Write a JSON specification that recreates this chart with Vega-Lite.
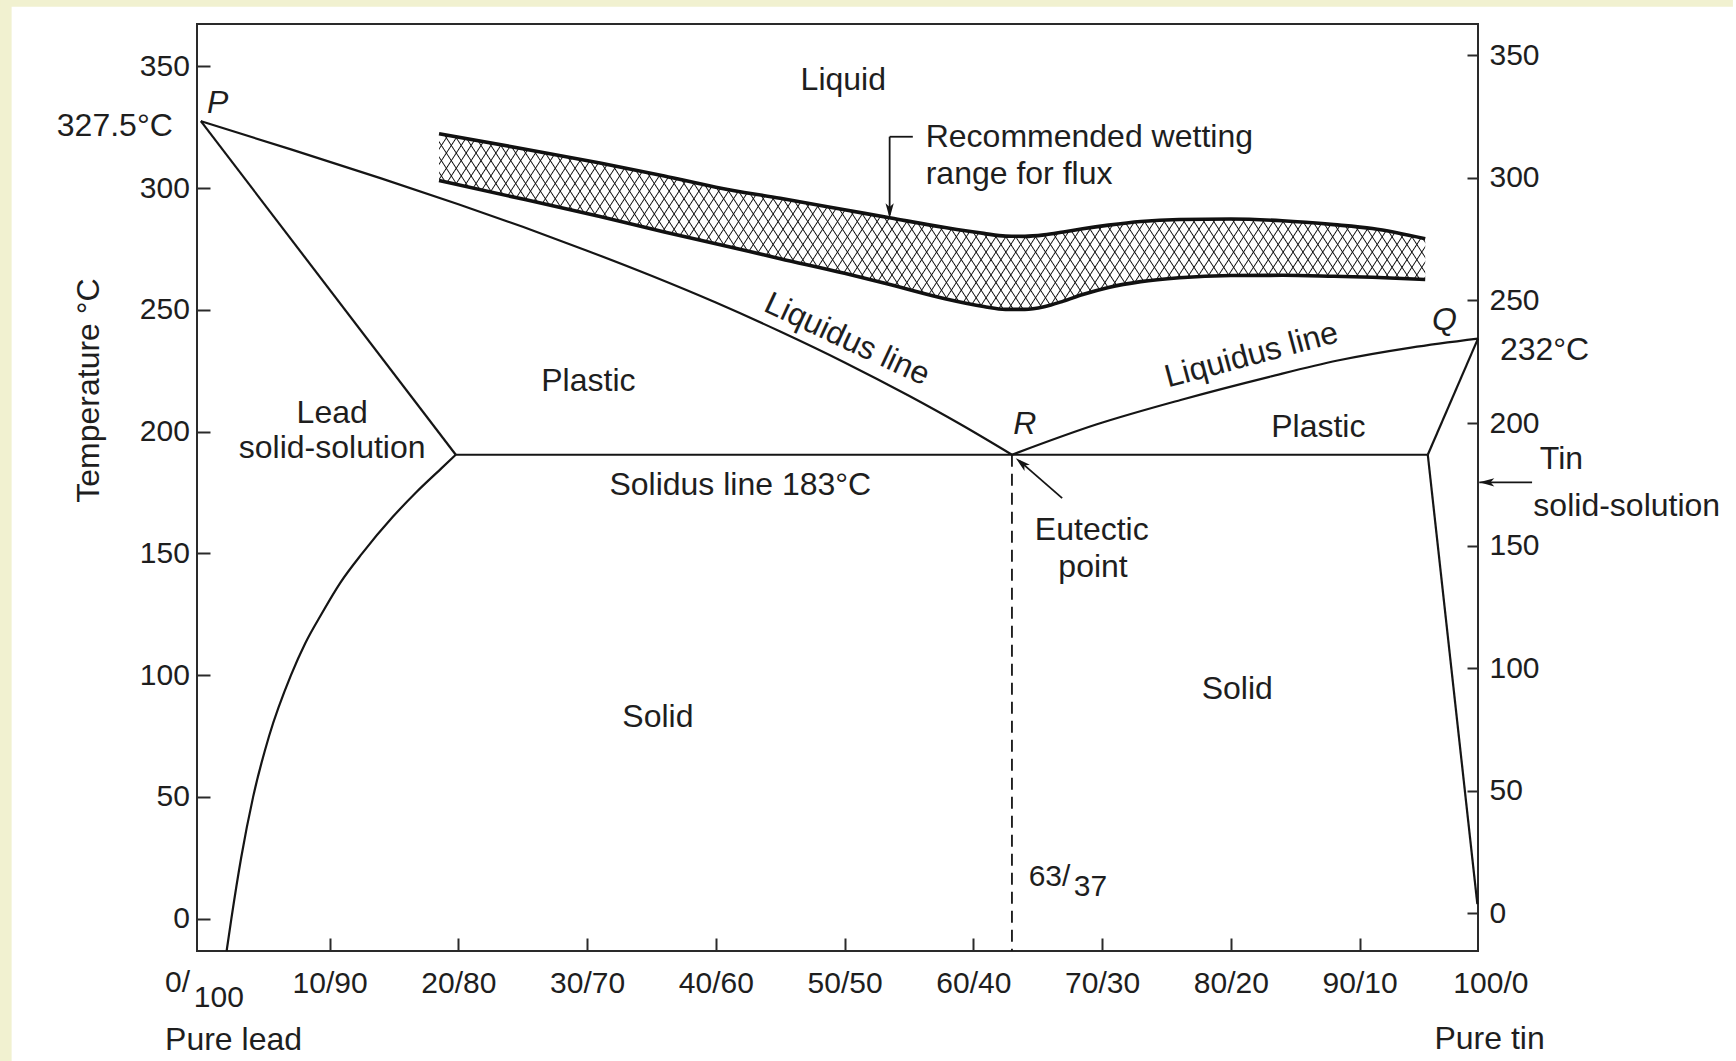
{
  "$schema": "https://vega.github.io/schema/vega-lite/v6.json",
  "width": 1281,
  "height": 927,
  "autosize": "none",
  "padding": {"left": 197, "top": 24, "right": 258, "bottom": 110},
  "background": "#ffffff",
  "config": {
    "font": "Liberation Sans",
    "view": {"stroke": "#2a2a2a", "strokeWidth": 2},
    "axis": {"grid": false, "domain": false, "ticks": true, "tickColor": "#2a2a2a", "tickWidth": 2, "labelFont": "Liberation Sans", "labelFontSize": 30, "labelColor": "#1e1e1e", "labelOverlap": false, "labelBound": false, "labelFlush": false, "titleFont": "Liberation Sans", "titleFontSize": 32, "titleFontWeight": "normal", "titleColor": "#1e1e1e"},
    "text": {"font": "Liberation Sans", "fontSize": 32, "color": "#1e1e1e"}
  },
  "datasets": {
    "phase": [
      {"seg": "leadSolidus", "v": 0, "T": 327.5},
      {"seg": "leadSolidus", "v": 19.8, "T": 190.5},
      {"seg": "leadSolvus", "v": 2.0, "T": -13.3},
      {"seg": "leadSolvus", "v": 2.37, "T": 0},
      {"seg": "leadSolvus", "v": 3.13, "T": 25},
      {"seg": "leadSolvus", "v": 4.06, "T": 50},
      {"seg": "leadSolvus", "v": 5.3, "T": 75},
      {"seg": "leadSolvus", "v": 7.0, "T": 100},
      {"seg": "leadSolvus", "v": 8.1, "T": 113},
      {"seg": "leadSolvus", "v": 9.36, "T": 125},
      {"seg": "leadSolvus", "v": 10.84, "T": 138},
      {"seg": "leadSolvus", "v": 12.53, "T": 150},
      {"seg": "leadSolvus", "v": 14.91, "T": 165},
      {"seg": "leadSolvus", "v": 16.71, "T": 175},
      {"seg": "leadSolvus", "v": 18.7, "T": 185},
      {"seg": "leadSolvus", "v": 19.8, "T": 190.5},
      {"seg": "liquidusL", "v": 0, "T": 327.5},
      {"seg": "liquidusL", "v": 7, "T": 315.9},
      {"seg": "liquidusL", "v": 14, "T": 304},
      {"seg": "liquidusL", "v": 20, "T": 293.4},
      {"seg": "liquidusL", "v": 25, "T": 284.1},
      {"seg": "liquidusL", "v": 30, "T": 274.3},
      {"seg": "liquidusL", "v": 35, "T": 264},
      {"seg": "liquidusL", "v": 40, "T": 253},
      {"seg": "liquidusL", "v": 45, "T": 241.1},
      {"seg": "liquidusL", "v": 50, "T": 228.4},
      {"seg": "liquidusL", "v": 55, "T": 214.7},
      {"seg": "liquidusL", "v": 59, "T": 203},
      {"seg": "liquidusL", "v": 63, "T": 190.5},
      {"seg": "liquidusR", "v": 63, "T": 190.5},
      {"seg": "liquidusR", "v": 69.6, "T": 203},
      {"seg": "liquidusR", "v": 76.1, "T": 213},
      {"seg": "liquidusR", "v": 83, "T": 222.5},
      {"seg": "liquidusR", "v": 88.3, "T": 229.2},
      {"seg": "liquidusR", "v": 94, "T": 234.5},
      {"seg": "liquidusR", "v": 99.2, "T": 238.2},
      {"seg": "solidus", "v": 19.8, "T": 190.5},
      {"seg": "solidus", "v": 95.3, "T": 190.5},
      {"seg": "tinUpper", "v": 95.3, "T": 190.5},
      {"seg": "tinUpper", "v": 99.2, "T": 238.2},
      {"seg": "tinLower", "v": 95.3, "T": 190.5},
      {"seg": "tinLower", "v": 99.15, "T": 6}
    ],
    "band": [
      {"v": 18.5, "lo": 303.1, "hi": 322.3},
      {"v": 25, "lo": 295.5, "hi": 316.2},
      {"v": 31, "lo": 288.3, "hi": 310.3},
      {"v": 36, "lo": 282, "hi": 305},
      {"v": 40, "lo": 277.2, "hi": 300.4},
      {"v": 45, "lo": 271, "hi": 295.8},
      {"v": 50, "lo": 265, "hi": 291.1},
      {"v": 53.6, "lo": 260.3, "hi": 287.7},
      {"v": 57.8, "lo": 254.6, "hi": 283.8},
      {"v": 60.8, "lo": 251.4, "hi": 281.4},
      {"v": 62.5, "lo": 250.2, "hi": 280.3},
      {"v": 64, "lo": 250.2, "hi": 280.2},
      {"v": 65.5, "lo": 251.3, "hi": 280.8},
      {"v": 67, "lo": 253.6, "hi": 282},
      {"v": 68.5, "lo": 256.3, "hi": 283.3},
      {"v": 70.5, "lo": 259.2, "hi": 284.8},
      {"v": 73, "lo": 261.6, "hi": 286.3},
      {"v": 76, "lo": 263.2, "hi": 287.1},
      {"v": 80, "lo": 264.1, "hi": 287.3},
      {"v": 84, "lo": 264.2, "hi": 286.6},
      {"v": 88, "lo": 263.8, "hi": 285},
      {"v": 91, "lo": 263.4, "hi": 283.4},
      {"v": 95.1, "lo": 262.5, "hi": 279.2}
    ]
  },
  "layer": [
    {
      "encoding": {
        "x": {"field": "v", "type": "quantitative", "scale": {"domain": [-0.3, 99.2], "nice": false, "zero": false},
          "axis": {"orient": "bottom", "values": [10, 20, 30, 40, 50, 60, 70, 80, 90], "labelExpr": "datum.value + '/' + (100 - datum.value)", "tickSize": -13, "labelPadding": 30, "title": null}},
        "y": {"field": "T", "type": "quantitative", "scale": {"domain": [-13.3, 367.4], "nice": false, "zero": false},
          "axis": {"orient": "left", "values": [0, 50, 100, 150, 200, 250, 300, 350], "tickSize": -13, "labelPadding": 20.6, "title": "Temperature °C", "titleX": -109, "titleY": 366, "titleAngle": -90, "titleAlign": "center", "titleBaseline": "middle"}}
      },
      "layer": [
        {
          "data": {"values": [
            {"v": -15.6, "v2": -14.7, "T": 377.4, "T2": -58.6},
            {"v": -15.6, "v2": 119, "T": 377.4, "T2": 374.5}
          ]},
          "mark": {"type": "rect", "color": "#f1f1d0"},
          "encoding": {"x2": {"field": "v2"}, "y2": {"field": "T2"}}
        },
        {
          "data": {"name": "band"},
          "mark": {"type": "area", "interpolate": "monotone", "fill": {"gradient": "linear", "x1": 0, "y1": 0, "x2": 1.101, "y2": 0.1274, "stops": [
            {"offset":0,"color":"#1110"},
            {"offset":0.008,"color":"#1110"},{"offset":0.009,"color":"#111"},{"offset":0.010,"color":"#1110"},
            {"offset":0.017,"color":"#1110"},{"offset":0.018,"color":"#111"},{"offset":0.019,"color":"#1110"},
            {"offset":0.026,"color":"#1110"},{"offset":0.027,"color":"#111"},{"offset":0.028,"color":"#1110"},
            {"offset":0.035,"color":"#1110"},{"offset":0.036,"color":"#111"},{"offset":0.037,"color":"#1110"},
            {"offset":0.044,"color":"#1110"},{"offset":0.045,"color":"#111"},{"offset":0.046,"color":"#1110"},
            {"offset":0.053,"color":"#1110"},{"offset":0.054,"color":"#111"},{"offset":0.055,"color":"#1110"},
            {"offset":0.062,"color":"#1110"},{"offset":0.063,"color":"#111"},{"offset":0.064,"color":"#1110"},
            {"offset":0.071,"color":"#1110"},{"offset":0.072,"color":"#111"},{"offset":0.073,"color":"#1110"},
            {"offset":0.080,"color":"#1110"},{"offset":0.081,"color":"#111"},{"offset":0.082,"color":"#1110"},
            {"offset":0.089,"color":"#1110"},{"offset":0.090,"color":"#111"},{"offset":0.091,"color":"#1110"},
            {"offset":0.098,"color":"#1110"},{"offset":0.099,"color":"#111"},{"offset":0.100,"color":"#1110"},
            {"offset":0.107,"color":"#1110"},{"offset":0.108,"color":"#111"},{"offset":0.109,"color":"#1110"},
            {"offset":0.116,"color":"#1110"},{"offset":0.117,"color":"#111"},{"offset":0.118,"color":"#1110"},
            {"offset":0.125,"color":"#1110"},{"offset":0.126,"color":"#111"},{"offset":0.127,"color":"#1110"},
            {"offset":0.134,"color":"#1110"},{"offset":0.135,"color":"#111"},{"offset":0.136,"color":"#1110"},
            {"offset":0.143,"color":"#1110"},{"offset":0.144,"color":"#111"},{"offset":0.145,"color":"#1110"},
            {"offset":0.152,"color":"#1110"},{"offset":0.153,"color":"#111"},{"offset":0.154,"color":"#1110"},
            {"offset":0.161,"color":"#1110"},{"offset":0.162,"color":"#111"},{"offset":0.163,"color":"#1110"},
            {"offset":0.170,"color":"#1110"},{"offset":0.171,"color":"#111"},{"offset":0.172,"color":"#1110"},
            {"offset":0.179,"color":"#1110"},{"offset":0.180,"color":"#111"},{"offset":0.181,"color":"#1110"},
            {"offset":0.188,"color":"#1110"},{"offset":0.189,"color":"#111"},{"offset":0.190,"color":"#1110"},
            {"offset":0.197,"color":"#1110"},{"offset":0.198,"color":"#111"},{"offset":0.199,"color":"#1110"},
            {"offset":0.206,"color":"#1110"},{"offset":0.207,"color":"#111"},{"offset":0.208,"color":"#1110"},
            {"offset":0.215,"color":"#1110"},{"offset":0.216,"color":"#111"},{"offset":0.217,"color":"#1110"},
            {"offset":0.224,"color":"#1110"},{"offset":0.225,"color":"#111"},{"offset":0.226,"color":"#1110"},
            {"offset":0.233,"color":"#1110"},{"offset":0.234,"color":"#111"},{"offset":0.235,"color":"#1110"},
            {"offset":0.242,"color":"#1110"},{"offset":0.243,"color":"#111"},{"offset":0.244,"color":"#1110"},
            {"offset":0.251,"color":"#1110"},{"offset":0.252,"color":"#111"},{"offset":0.253,"color":"#1110"},
            {"offset":0.260,"color":"#1110"},{"offset":0.261,"color":"#111"},{"offset":0.262,"color":"#1110"},
            {"offset":0.269,"color":"#1110"},{"offset":0.270,"color":"#111"},{"offset":0.271,"color":"#1110"},
            {"offset":0.278,"color":"#1110"},{"offset":0.279,"color":"#111"},{"offset":0.280,"color":"#1110"},
            {"offset":0.287,"color":"#1110"},{"offset":0.288,"color":"#111"},{"offset":0.289,"color":"#1110"},
            {"offset":0.296,"color":"#1110"},{"offset":0.297,"color":"#111"},{"offset":0.298,"color":"#1110"},
            {"offset":0.305,"color":"#1110"},{"offset":0.306,"color":"#111"},{"offset":0.307,"color":"#1110"},
            {"offset":0.314,"color":"#1110"},{"offset":0.315,"color":"#111"},{"offset":0.316,"color":"#1110"},
            {"offset":0.323,"color":"#1110"},{"offset":0.324,"color":"#111"},{"offset":0.325,"color":"#1110"},
            {"offset":0.332,"color":"#1110"},{"offset":0.333,"color":"#111"},{"offset":0.334,"color":"#1110"},
            {"offset":0.341,"color":"#1110"},{"offset":0.342,"color":"#111"},{"offset":0.343,"color":"#1110"},
            {"offset":0.350,"color":"#1110"},{"offset":0.351,"color":"#111"},{"offset":0.352,"color":"#1110"},
            {"offset":0.359,"color":"#1110"},{"offset":0.360,"color":"#111"},{"offset":0.361,"color":"#1110"},
            {"offset":0.368,"color":"#1110"},{"offset":0.369,"color":"#111"},{"offset":0.370,"color":"#1110"},
            {"offset":0.377,"color":"#1110"},{"offset":0.378,"color":"#111"},{"offset":0.379,"color":"#1110"},
            {"offset":0.386,"color":"#1110"},{"offset":0.387,"color":"#111"},{"offset":0.388,"color":"#1110"},
            {"offset":0.395,"color":"#1110"},{"offset":0.396,"color":"#111"},{"offset":0.397,"color":"#1110"},
            {"offset":0.404,"color":"#1110"},{"offset":0.405,"color":"#111"},{"offset":0.406,"color":"#1110"},
            {"offset":0.413,"color":"#1110"},{"offset":0.414,"color":"#111"},{"offset":0.415,"color":"#1110"},
            {"offset":0.422,"color":"#1110"},{"offset":0.423,"color":"#111"},{"offset":0.424,"color":"#1110"},
            {"offset":0.431,"color":"#1110"},{"offset":0.432,"color":"#111"},{"offset":0.433,"color":"#1110"},
            {"offset":0.440,"color":"#1110"},{"offset":0.441,"color":"#111"},{"offset":0.442,"color":"#1110"},
            {"offset":0.449,"color":"#1110"},{"offset":0.450,"color":"#111"},{"offset":0.451,"color":"#1110"},
            {"offset":0.458,"color":"#1110"},{"offset":0.459,"color":"#111"},{"offset":0.460,"color":"#1110"},
            {"offset":0.467,"color":"#1110"},{"offset":0.468,"color":"#111"},{"offset":0.469,"color":"#1110"},
            {"offset":0.476,"color":"#1110"},{"offset":0.477,"color":"#111"},{"offset":0.478,"color":"#1110"},
            {"offset":0.485,"color":"#1110"},{"offset":0.486,"color":"#111"},{"offset":0.487,"color":"#1110"},
            {"offset":0.494,"color":"#1110"},{"offset":0.495,"color":"#111"},{"offset":0.496,"color":"#1110"},
            {"offset":0.503,"color":"#1110"},{"offset":0.504,"color":"#111"},{"offset":0.505,"color":"#1110"},
            {"offset":0.512,"color":"#1110"},{"offset":0.513,"color":"#111"},{"offset":0.514,"color":"#1110"},
            {"offset":0.521,"color":"#1110"},{"offset":0.522,"color":"#111"},{"offset":0.523,"color":"#1110"},
            {"offset":0.530,"color":"#1110"},{"offset":0.531,"color":"#111"},{"offset":0.532,"color":"#1110"},
            {"offset":0.539,"color":"#1110"},{"offset":0.540,"color":"#111"},{"offset":0.541,"color":"#1110"},
            {"offset":0.548,"color":"#1110"},{"offset":0.549,"color":"#111"},{"offset":0.550,"color":"#1110"},
            {"offset":0.557,"color":"#1110"},{"offset":0.558,"color":"#111"},{"offset":0.559,"color":"#1110"},
            {"offset":0.566,"color":"#1110"},{"offset":0.567,"color":"#111"},{"offset":0.568,"color":"#1110"},
            {"offset":0.575,"color":"#1110"},{"offset":0.576,"color":"#111"},{"offset":0.577,"color":"#1110"},
            {"offset":0.584,"color":"#1110"},{"offset":0.585,"color":"#111"},{"offset":0.586,"color":"#1110"},
            {"offset":0.593,"color":"#1110"},{"offset":0.594,"color":"#111"},{"offset":0.595,"color":"#1110"},
            {"offset":0.602,"color":"#1110"},{"offset":0.603,"color":"#111"},{"offset":0.604,"color":"#1110"},
            {"offset":0.611,"color":"#1110"},{"offset":0.612,"color":"#111"},{"offset":0.613,"color":"#1110"},
            {"offset":0.620,"color":"#1110"},{"offset":0.621,"color":"#111"},{"offset":0.622,"color":"#1110"},
            {"offset":0.629,"color":"#1110"},{"offset":0.630,"color":"#111"},{"offset":0.631,"color":"#1110"},
            {"offset":0.638,"color":"#1110"},{"offset":0.639,"color":"#111"},{"offset":0.640,"color":"#1110"},
            {"offset":0.647,"color":"#1110"},{"offset":0.648,"color":"#111"},{"offset":0.649,"color":"#1110"},
            {"offset":0.656,"color":"#1110"},{"offset":0.657,"color":"#111"},{"offset":0.658,"color":"#1110"},
            {"offset":0.665,"color":"#1110"},{"offset":0.666,"color":"#111"},{"offset":0.667,"color":"#1110"},
            {"offset":0.674,"color":"#1110"},{"offset":0.675,"color":"#111"},{"offset":0.676,"color":"#1110"},
            {"offset":0.683,"color":"#1110"},{"offset":0.684,"color":"#111"},{"offset":0.685,"color":"#1110"},
            {"offset":0.692,"color":"#1110"},{"offset":0.693,"color":"#111"},{"offset":0.694,"color":"#1110"},
            {"offset":0.701,"color":"#1110"},{"offset":0.702,"color":"#111"},{"offset":0.703,"color":"#1110"},
            {"offset":0.710,"color":"#1110"},{"offset":0.711,"color":"#111"},{"offset":0.712,"color":"#1110"},
            {"offset":0.719,"color":"#1110"},{"offset":0.720,"color":"#111"},{"offset":0.721,"color":"#1110"},
            {"offset":0.728,"color":"#1110"},{"offset":0.729,"color":"#111"},{"offset":0.730,"color":"#1110"},
            {"offset":0.737,"color":"#1110"},{"offset":0.738,"color":"#111"},{"offset":0.739,"color":"#1110"},
            {"offset":0.746,"color":"#1110"},{"offset":0.747,"color":"#111"},{"offset":0.748,"color":"#1110"},
            {"offset":0.755,"color":"#1110"},{"offset":0.756,"color":"#111"},{"offset":0.757,"color":"#1110"},
            {"offset":0.764,"color":"#1110"},{"offset":0.765,"color":"#111"},{"offset":0.766,"color":"#1110"},
            {"offset":0.773,"color":"#1110"},{"offset":0.774,"color":"#111"},{"offset":0.775,"color":"#1110"},
            {"offset":0.782,"color":"#1110"},{"offset":0.783,"color":"#111"},{"offset":0.784,"color":"#1110"},
            {"offset":0.791,"color":"#1110"},{"offset":0.792,"color":"#111"},{"offset":0.793,"color":"#1110"},
            {"offset":0.800,"color":"#1110"},{"offset":0.801,"color":"#111"},{"offset":0.802,"color":"#1110"},
            {"offset":0.809,"color":"#1110"},{"offset":0.810,"color":"#111"},{"offset":0.811,"color":"#1110"},
            {"offset":0.818,"color":"#1110"},{"offset":0.819,"color":"#111"},{"offset":0.820,"color":"#1110"},
            {"offset":0.827,"color":"#1110"},{"offset":0.828,"color":"#111"},{"offset":0.829,"color":"#1110"},
            {"offset":0.836,"color":"#1110"},{"offset":0.837,"color":"#111"},{"offset":0.838,"color":"#1110"},
            {"offset":0.845,"color":"#1110"},{"offset":0.846,"color":"#111"},{"offset":0.847,"color":"#1110"},
            {"offset":0.854,"color":"#1110"},{"offset":0.855,"color":"#111"},{"offset":0.856,"color":"#1110"},
            {"offset":0.863,"color":"#1110"},{"offset":0.864,"color":"#111"},{"offset":0.865,"color":"#1110"},
            {"offset":0.872,"color":"#1110"},{"offset":0.873,"color":"#111"},{"offset":0.874,"color":"#1110"},
            {"offset":0.881,"color":"#1110"},{"offset":0.882,"color":"#111"},{"offset":0.883,"color":"#1110"},
            {"offset":0.890,"color":"#1110"},{"offset":0.891,"color":"#111"},{"offset":0.892,"color":"#1110"},
            {"offset":0.899,"color":"#1110"},{"offset":0.900,"color":"#111"},{"offset":0.901,"color":"#1110"},
            {"offset":0.908,"color":"#1110"},{"offset":0.909,"color":"#111"},{"offset":0.910,"color":"#1110"},
            {"offset":0.917,"color":"#1110"},{"offset":0.918,"color":"#111"},{"offset":0.919,"color":"#1110"},
            {"offset":0.926,"color":"#1110"},{"offset":0.927,"color":"#111"},{"offset":0.928,"color":"#1110"},
            {"offset":0.935,"color":"#1110"},{"offset":0.936,"color":"#111"},{"offset":0.937,"color":"#1110"},
            {"offset":0.944,"color":"#1110"},{"offset":0.945,"color":"#111"},{"offset":0.946,"color":"#1110"},
            {"offset":0.953,"color":"#1110"},{"offset":0.954,"color":"#111"},{"offset":0.955,"color":"#1110"},
            {"offset":0.962,"color":"#1110"},{"offset":0.963,"color":"#111"},{"offset":0.964,"color":"#1110"},
            {"offset":0.971,"color":"#1110"},{"offset":0.972,"color":"#111"},{"offset":0.973,"color":"#1110"},
            {"offset":0.980,"color":"#1110"},{"offset":0.981,"color":"#111"},{"offset":0.982,"color":"#1110"},
            {"offset":0.989,"color":"#1110"},{"offset":0.990,"color":"#111"},{"offset":0.991,"color":"#1110"},
            {"offset":0.998,"color":"#1110"},{"offset":0.999,"color":"#111"},{"offset":1,"color":"#1110"}
          ]}},
          "encoding": {"y": {"field": "lo", "type": "quantitative"}, "y2": {"field": "hi"}}
        },
        {
          "data": {"name": "band"},
          "mark": {"type": "area", "interpolate": "monotone", "fill": {"gradient": "linear", "x1": 0, "y1": 1, "x2": 1.101, "y2": 0.8726, "stops": [
            {"offset":0,"color":"#1110"},
            {"offset":0.008,"color":"#1110"},{"offset":0.009,"color":"#111"},{"offset":0.010,"color":"#1110"},
            {"offset":0.017,"color":"#1110"},{"offset":0.018,"color":"#111"},{"offset":0.019,"color":"#1110"},
            {"offset":0.026,"color":"#1110"},{"offset":0.027,"color":"#111"},{"offset":0.028,"color":"#1110"},
            {"offset":0.035,"color":"#1110"},{"offset":0.036,"color":"#111"},{"offset":0.037,"color":"#1110"},
            {"offset":0.044,"color":"#1110"},{"offset":0.045,"color":"#111"},{"offset":0.046,"color":"#1110"},
            {"offset":0.053,"color":"#1110"},{"offset":0.054,"color":"#111"},{"offset":0.055,"color":"#1110"},
            {"offset":0.062,"color":"#1110"},{"offset":0.063,"color":"#111"},{"offset":0.064,"color":"#1110"},
            {"offset":0.071,"color":"#1110"},{"offset":0.072,"color":"#111"},{"offset":0.073,"color":"#1110"},
            {"offset":0.080,"color":"#1110"},{"offset":0.081,"color":"#111"},{"offset":0.082,"color":"#1110"},
            {"offset":0.089,"color":"#1110"},{"offset":0.090,"color":"#111"},{"offset":0.091,"color":"#1110"},
            {"offset":0.098,"color":"#1110"},{"offset":0.099,"color":"#111"},{"offset":0.100,"color":"#1110"},
            {"offset":0.107,"color":"#1110"},{"offset":0.108,"color":"#111"},{"offset":0.109,"color":"#1110"},
            {"offset":0.116,"color":"#1110"},{"offset":0.117,"color":"#111"},{"offset":0.118,"color":"#1110"},
            {"offset":0.125,"color":"#1110"},{"offset":0.126,"color":"#111"},{"offset":0.127,"color":"#1110"},
            {"offset":0.134,"color":"#1110"},{"offset":0.135,"color":"#111"},{"offset":0.136,"color":"#1110"},
            {"offset":0.143,"color":"#1110"},{"offset":0.144,"color":"#111"},{"offset":0.145,"color":"#1110"},
            {"offset":0.152,"color":"#1110"},{"offset":0.153,"color":"#111"},{"offset":0.154,"color":"#1110"},
            {"offset":0.161,"color":"#1110"},{"offset":0.162,"color":"#111"},{"offset":0.163,"color":"#1110"},
            {"offset":0.170,"color":"#1110"},{"offset":0.171,"color":"#111"},{"offset":0.172,"color":"#1110"},
            {"offset":0.179,"color":"#1110"},{"offset":0.180,"color":"#111"},{"offset":0.181,"color":"#1110"},
            {"offset":0.188,"color":"#1110"},{"offset":0.189,"color":"#111"},{"offset":0.190,"color":"#1110"},
            {"offset":0.197,"color":"#1110"},{"offset":0.198,"color":"#111"},{"offset":0.199,"color":"#1110"},
            {"offset":0.206,"color":"#1110"},{"offset":0.207,"color":"#111"},{"offset":0.208,"color":"#1110"},
            {"offset":0.215,"color":"#1110"},{"offset":0.216,"color":"#111"},{"offset":0.217,"color":"#1110"},
            {"offset":0.224,"color":"#1110"},{"offset":0.225,"color":"#111"},{"offset":0.226,"color":"#1110"},
            {"offset":0.233,"color":"#1110"},{"offset":0.234,"color":"#111"},{"offset":0.235,"color":"#1110"},
            {"offset":0.242,"color":"#1110"},{"offset":0.243,"color":"#111"},{"offset":0.244,"color":"#1110"},
            {"offset":0.251,"color":"#1110"},{"offset":0.252,"color":"#111"},{"offset":0.253,"color":"#1110"},
            {"offset":0.260,"color":"#1110"},{"offset":0.261,"color":"#111"},{"offset":0.262,"color":"#1110"},
            {"offset":0.269,"color":"#1110"},{"offset":0.270,"color":"#111"},{"offset":0.271,"color":"#1110"},
            {"offset":0.278,"color":"#1110"},{"offset":0.279,"color":"#111"},{"offset":0.280,"color":"#1110"},
            {"offset":0.287,"color":"#1110"},{"offset":0.288,"color":"#111"},{"offset":0.289,"color":"#1110"},
            {"offset":0.296,"color":"#1110"},{"offset":0.297,"color":"#111"},{"offset":0.298,"color":"#1110"},
            {"offset":0.305,"color":"#1110"},{"offset":0.306,"color":"#111"},{"offset":0.307,"color":"#1110"},
            {"offset":0.314,"color":"#1110"},{"offset":0.315,"color":"#111"},{"offset":0.316,"color":"#1110"},
            {"offset":0.323,"color":"#1110"},{"offset":0.324,"color":"#111"},{"offset":0.325,"color":"#1110"},
            {"offset":0.332,"color":"#1110"},{"offset":0.333,"color":"#111"},{"offset":0.334,"color":"#1110"},
            {"offset":0.341,"color":"#1110"},{"offset":0.342,"color":"#111"},{"offset":0.343,"color":"#1110"},
            {"offset":0.350,"color":"#1110"},{"offset":0.351,"color":"#111"},{"offset":0.352,"color":"#1110"},
            {"offset":0.359,"color":"#1110"},{"offset":0.360,"color":"#111"},{"offset":0.361,"color":"#1110"},
            {"offset":0.368,"color":"#1110"},{"offset":0.369,"color":"#111"},{"offset":0.370,"color":"#1110"},
            {"offset":0.377,"color":"#1110"},{"offset":0.378,"color":"#111"},{"offset":0.379,"color":"#1110"},
            {"offset":0.386,"color":"#1110"},{"offset":0.387,"color":"#111"},{"offset":0.388,"color":"#1110"},
            {"offset":0.395,"color":"#1110"},{"offset":0.396,"color":"#111"},{"offset":0.397,"color":"#1110"},
            {"offset":0.404,"color":"#1110"},{"offset":0.405,"color":"#111"},{"offset":0.406,"color":"#1110"},
            {"offset":0.413,"color":"#1110"},{"offset":0.414,"color":"#111"},{"offset":0.415,"color":"#1110"},
            {"offset":0.422,"color":"#1110"},{"offset":0.423,"color":"#111"},{"offset":0.424,"color":"#1110"},
            {"offset":0.431,"color":"#1110"},{"offset":0.432,"color":"#111"},{"offset":0.433,"color":"#1110"},
            {"offset":0.440,"color":"#1110"},{"offset":0.441,"color":"#111"},{"offset":0.442,"color":"#1110"},
            {"offset":0.449,"color":"#1110"},{"offset":0.450,"color":"#111"},{"offset":0.451,"color":"#1110"},
            {"offset":0.458,"color":"#1110"},{"offset":0.459,"color":"#111"},{"offset":0.460,"color":"#1110"},
            {"offset":0.467,"color":"#1110"},{"offset":0.468,"color":"#111"},{"offset":0.469,"color":"#1110"},
            {"offset":0.476,"color":"#1110"},{"offset":0.477,"color":"#111"},{"offset":0.478,"color":"#1110"},
            {"offset":0.485,"color":"#1110"},{"offset":0.486,"color":"#111"},{"offset":0.487,"color":"#1110"},
            {"offset":0.494,"color":"#1110"},{"offset":0.495,"color":"#111"},{"offset":0.496,"color":"#1110"},
            {"offset":0.503,"color":"#1110"},{"offset":0.504,"color":"#111"},{"offset":0.505,"color":"#1110"},
            {"offset":0.512,"color":"#1110"},{"offset":0.513,"color":"#111"},{"offset":0.514,"color":"#1110"},
            {"offset":0.521,"color":"#1110"},{"offset":0.522,"color":"#111"},{"offset":0.523,"color":"#1110"},
            {"offset":0.530,"color":"#1110"},{"offset":0.531,"color":"#111"},{"offset":0.532,"color":"#1110"},
            {"offset":0.539,"color":"#1110"},{"offset":0.540,"color":"#111"},{"offset":0.541,"color":"#1110"},
            {"offset":0.548,"color":"#1110"},{"offset":0.549,"color":"#111"},{"offset":0.550,"color":"#1110"},
            {"offset":0.557,"color":"#1110"},{"offset":0.558,"color":"#111"},{"offset":0.559,"color":"#1110"},
            {"offset":0.566,"color":"#1110"},{"offset":0.567,"color":"#111"},{"offset":0.568,"color":"#1110"},
            {"offset":0.575,"color":"#1110"},{"offset":0.576,"color":"#111"},{"offset":0.577,"color":"#1110"},
            {"offset":0.584,"color":"#1110"},{"offset":0.585,"color":"#111"},{"offset":0.586,"color":"#1110"},
            {"offset":0.593,"color":"#1110"},{"offset":0.594,"color":"#111"},{"offset":0.595,"color":"#1110"},
            {"offset":0.602,"color":"#1110"},{"offset":0.603,"color":"#111"},{"offset":0.604,"color":"#1110"},
            {"offset":0.611,"color":"#1110"},{"offset":0.612,"color":"#111"},{"offset":0.613,"color":"#1110"},
            {"offset":0.620,"color":"#1110"},{"offset":0.621,"color":"#111"},{"offset":0.622,"color":"#1110"},
            {"offset":0.629,"color":"#1110"},{"offset":0.630,"color":"#111"},{"offset":0.631,"color":"#1110"},
            {"offset":0.638,"color":"#1110"},{"offset":0.639,"color":"#111"},{"offset":0.640,"color":"#1110"},
            {"offset":0.647,"color":"#1110"},{"offset":0.648,"color":"#111"},{"offset":0.649,"color":"#1110"},
            {"offset":0.656,"color":"#1110"},{"offset":0.657,"color":"#111"},{"offset":0.658,"color":"#1110"},
            {"offset":0.665,"color":"#1110"},{"offset":0.666,"color":"#111"},{"offset":0.667,"color":"#1110"},
            {"offset":0.674,"color":"#1110"},{"offset":0.675,"color":"#111"},{"offset":0.676,"color":"#1110"},
            {"offset":0.683,"color":"#1110"},{"offset":0.684,"color":"#111"},{"offset":0.685,"color":"#1110"},
            {"offset":0.692,"color":"#1110"},{"offset":0.693,"color":"#111"},{"offset":0.694,"color":"#1110"},
            {"offset":0.701,"color":"#1110"},{"offset":0.702,"color":"#111"},{"offset":0.703,"color":"#1110"},
            {"offset":0.710,"color":"#1110"},{"offset":0.711,"color":"#111"},{"offset":0.712,"color":"#1110"},
            {"offset":0.719,"color":"#1110"},{"offset":0.720,"color":"#111"},{"offset":0.721,"color":"#1110"},
            {"offset":0.728,"color":"#1110"},{"offset":0.729,"color":"#111"},{"offset":0.730,"color":"#1110"},
            {"offset":0.737,"color":"#1110"},{"offset":0.738,"color":"#111"},{"offset":0.739,"color":"#1110"},
            {"offset":0.746,"color":"#1110"},{"offset":0.747,"color":"#111"},{"offset":0.748,"color":"#1110"},
            {"offset":0.755,"color":"#1110"},{"offset":0.756,"color":"#111"},{"offset":0.757,"color":"#1110"},
            {"offset":0.764,"color":"#1110"},{"offset":0.765,"color":"#111"},{"offset":0.766,"color":"#1110"},
            {"offset":0.773,"color":"#1110"},{"offset":0.774,"color":"#111"},{"offset":0.775,"color":"#1110"},
            {"offset":0.782,"color":"#1110"},{"offset":0.783,"color":"#111"},{"offset":0.784,"color":"#1110"},
            {"offset":0.791,"color":"#1110"},{"offset":0.792,"color":"#111"},{"offset":0.793,"color":"#1110"},
            {"offset":0.800,"color":"#1110"},{"offset":0.801,"color":"#111"},{"offset":0.802,"color":"#1110"},
            {"offset":0.809,"color":"#1110"},{"offset":0.810,"color":"#111"},{"offset":0.811,"color":"#1110"},
            {"offset":0.818,"color":"#1110"},{"offset":0.819,"color":"#111"},{"offset":0.820,"color":"#1110"},
            {"offset":0.827,"color":"#1110"},{"offset":0.828,"color":"#111"},{"offset":0.829,"color":"#1110"},
            {"offset":0.836,"color":"#1110"},{"offset":0.837,"color":"#111"},{"offset":0.838,"color":"#1110"},
            {"offset":0.845,"color":"#1110"},{"offset":0.846,"color":"#111"},{"offset":0.847,"color":"#1110"},
            {"offset":0.854,"color":"#1110"},{"offset":0.855,"color":"#111"},{"offset":0.856,"color":"#1110"},
            {"offset":0.863,"color":"#1110"},{"offset":0.864,"color":"#111"},{"offset":0.865,"color":"#1110"},
            {"offset":0.872,"color":"#1110"},{"offset":0.873,"color":"#111"},{"offset":0.874,"color":"#1110"},
            {"offset":0.881,"color":"#1110"},{"offset":0.882,"color":"#111"},{"offset":0.883,"color":"#1110"},
            {"offset":0.890,"color":"#1110"},{"offset":0.891,"color":"#111"},{"offset":0.892,"color":"#1110"},
            {"offset":0.899,"color":"#1110"},{"offset":0.900,"color":"#111"},{"offset":0.901,"color":"#1110"},
            {"offset":0.908,"color":"#1110"},{"offset":0.909,"color":"#111"},{"offset":0.910,"color":"#1110"},
            {"offset":0.917,"color":"#1110"},{"offset":0.918,"color":"#111"},{"offset":0.919,"color":"#1110"},
            {"offset":0.926,"color":"#1110"},{"offset":0.927,"color":"#111"},{"offset":0.928,"color":"#1110"},
            {"offset":0.935,"color":"#1110"},{"offset":0.936,"color":"#111"},{"offset":0.937,"color":"#1110"},
            {"offset":0.944,"color":"#1110"},{"offset":0.945,"color":"#111"},{"offset":0.946,"color":"#1110"},
            {"offset":0.953,"color":"#1110"},{"offset":0.954,"color":"#111"},{"offset":0.955,"color":"#1110"},
            {"offset":0.962,"color":"#1110"},{"offset":0.963,"color":"#111"},{"offset":0.964,"color":"#1110"},
            {"offset":0.971,"color":"#1110"},{"offset":0.972,"color":"#111"},{"offset":0.973,"color":"#1110"},
            {"offset":0.980,"color":"#1110"},{"offset":0.981,"color":"#111"},{"offset":0.982,"color":"#1110"},
            {"offset":0.989,"color":"#1110"},{"offset":0.990,"color":"#111"},{"offset":0.991,"color":"#1110"},
            {"offset":0.998,"color":"#1110"},{"offset":0.999,"color":"#111"},{"offset":1,"color":"#1110"}
          ]}},
          "encoding": {"y": {"field": "lo", "type": "quantitative"}, "y2": {"field": "hi"}}
        },
        {
          "data": {"name": "band"},
          "mark": {"type": "line", "interpolate": "monotone", "color": "#111111", "strokeWidth": 3.6},
          "encoding": {"y": {"field": "hi", "type": "quantitative"}}
        },
        {
          "data": {"name": "band"},
          "mark": {"type": "line", "interpolate": "monotone", "color": "#111111", "strokeWidth": 3.6},
          "encoding": {"y": {"field": "lo", "type": "quantitative"}}
        },
        {
          "data": {"name": "phase"},
          "mark": {"type": "line", "interpolate": "monotone", "color": "#151515", "strokeWidth": 2.2},
          "encoding": {"detail": {"field": "seg", "type": "nominal"}}
        },
        {
          "data": {"values": [{"v": 63, "T": 190.5, "T2": -13.3}]},
          "mark": {"type": "rule", "color": "#151515", "strokeWidth": 1.8, "strokeDash": [12, 7]},
          "encoding": {"y2": {"field": "T2"}}
        },
        {
          "data": {"values": [
            {"v": 55.3, "v2": 53.5, "T": 321.1, "T2": 321.1},
            {"v": 53.5, "v2": 53.5, "T": 321.1, "T2": 289},
            {"v": 66.9, "v2": 63.6, "T": 172.7, "T2": 187.9}
          ]},
          "mark": {"type": "rule", "color": "#151515", "strokeWidth": 1.8},
          "encoding": {"x2": {"field": "v2"}, "y2": {"field": "T2"}}
        },
        {
          "data": {"values": [{"v": 53.5, "T": 287.6}]},
          "mark": {"type": "point", "shape": "M0,0 L-0.55,-2 L0,-1.5 L0.55,-2 Z", "size": 225, "filled": true, "color": "#151515", "opacity": 1, "angle": 0}
        },
        {
          "data": {"values": [{"v": 63.3, "T": 189.1}]},
          "mark": {"type": "point", "shape": "M0,0 L-0.55,-2 L0,-1.5 L0.55,-2 Z", "size": 225, "filled": true, "color": "#151515", "opacity": 1, "angle": 130.6}
        },
        {
          "data": {"values": [
            {"txt": "Liquid", "v": 49.9, "T": 344.6},
            {"txt": "Plastic", "v": 30.1, "T": 220.9},
            {"txt": "Plastic", "v": 86.8, "T": 201.9},
            {"txt": "Lead", "v": 10.2, "T": 207.8},
            {"txt": "solid-solution", "v": 10.2, "T": 193.2},
            {"txt": "Solidus line 183°C", "v": 41.9, "T": 178.2},
            {"txt": "Eutectic", "v": 69.2, "T": 159.7},
            {"txt": "point", "v": 69.3, "T": 144.6},
            {"txt": "Solid", "v": 35.5, "T": 82.7},
            {"txt": "Solid", "v": 80.5, "T": 94.2},
            {"txt": "Pure tin", "v": 100.1, "T": -49.5}
          ]},
          "mark": {"type": "text", "align": "center", "baseline": "middle"},
          "encoding": {"text": {"field": "txt"}}
        },
        {
          "data": {"values": [{"txt": "100/0", "v": 100.2, "T": -26.8}]},
          "mark": {"type": "text", "align": "center", "baseline": "middle", "fontSize": 30},
          "encoding": {"text": {"field": "txt"}}
        },
        {
          "data": {"values": [
            {"txt": "Recommended wetting", "v": 56.3, "T": 320.9},
            {"txt": "range for flux", "v": 56.3, "T": 306},
            {"txt": "232°C", "v": 100.9, "T": 233.6},
            {"txt": "Tin", "v": 104.0, "T": 188.8},
            {"txt": "solid-solution", "v": 103.5, "T": 169.6},
            {"txt": "Pure lead", "v": -2.78, "T": -49.7}
          ]},
          "mark": {"type": "text", "align": "left", "baseline": "middle"},
          "encoding": {"text": {"field": "txt"}}
        },
        {
          "data": {"values": [
            {"txt": "63/", "v": 64.3, "T": 17.2},
            {"txt": "37", "v": 67.8, "T": 13},
            {"txt": "0/", "v": -2.78, "T": -26.4},
            {"txt": "100", "v": -0.55, "T": -32.8}
          ]},
          "mark": {"type": "text", "align": "left", "baseline": "middle", "fontSize": 30},
          "encoding": {"text": {"field": "txt"}}
        },
        {
          "data": {"values": [{"txt": "327.5°C", "v": -2.18, "T": 325.6}]},
          "mark": {"type": "text", "align": "right", "baseline": "middle"},
          "encoding": {"text": {"field": "txt"}}
        },
        {
          "data": {"values": [
            {"txt": "P", "v": 1.3, "T": 334.8},
            {"txt": "R", "v": 64.0, "T": 203.1},
            {"txt": "Q", "v": 96.6, "T": 245.7}
          ]},
          "mark": {"type": "text", "align": "center", "baseline": "middle", "fontStyle": "italic"},
          "encoding": {"text": {"field": "txt"}}
        },
        {
          "data": {"values": [{"txt": "Liquidus line", "v": 50.2, "T": 238}]},
          "mark": {"type": "text", "align": "center", "baseline": "middle", "angle": 25},
          "encoding": {"text": {"field": "txt"}}
        },
        {
          "data": {"values": [{"txt": "Liquidus line", "v": 81.6, "T": 231.5}]},
          "mark": {"type": "text", "align": "center", "baseline": "middle", "angle": -15},
          "encoding": {"text": {"field": "txt"}}
        }
      ]
    },
    {
      "data": {"values": [{"v": 103.4, "v2": 99.3, "T": 175.8}]},
      "encoding": {
        "x": {"field": "v", "type": "quantitative"},
        "y": {"field": "T", "type": "quantitative", "scale": {"domain": [-15.4, 362.8], "nice": false, "zero": false},
          "axis": {"orient": "right", "values": [0, 50, 100, 150, 200, 250, 300, 350], "tickSize": -11, "labelPadding": 22, "title": null}}
      },
      "layer": [
        {
          "mark": {"type": "rule", "color": "#151515", "strokeWidth": 1.8},
          "encoding": {"x2": {"field": "v2"}}
        },
        {
          "mark": {"type": "point", "shape": "M0,0 L-0.55,-2 L0,-1.5 L0.55,-2 Z", "size": 225, "filled": true, "color": "#151515", "opacity": 1, "angle": 90},
          "encoding": {"x": {"field": "v2", "type": "quantitative"}}
        }
      ]
    }
  ],
  "resolve": {"scale": {"y": "independent"}, "axis": {"y": "independent"}}
}
